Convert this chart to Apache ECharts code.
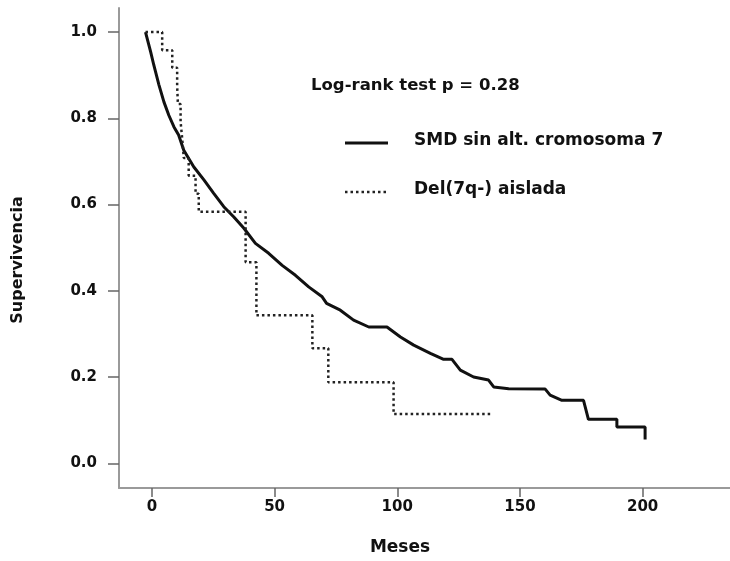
<!DOCTYPE html>
<html>
<head>
<meta charset="utf-8">
<script src="https://cdn.jsdelivr.net/npm/echarts@6/dist/echarts.min.js"></script>
<style>html,body{margin:0;padding:0;background:#fff}#c{width:730px;height:561px}</style>
</head>
<body>
<div id="c"></div>
<script>
// ---- data ----
const seriesNames = ['SMD sin alt. cromosoma 7', 'Del(7q-) aislada'];
const testLabel = 'Log-rank test p = 0.28';
const xTicks = [0, 50, 100, 150, 200];
const yTicks = [0.0, 0.2, 0.4, 0.6, 0.8, 1.0];
const xTitle = 'Meses';
const yTitle = 'Supervivencia';
// solid curve: months / survival
const smdMonths = [-2.6, -0.5, 0.8, 2.9, 4.9, 6.9, 9.0, 10.9, 13.0, 17.1, 21.2, 25.2, 29.3, 33.4, 37.5, 42.2, 47.6, 53.1, 58.5, 63.9, 69.4, 71.2, 76.8, 82.2, 88.4, 95.8, 101.3, 106.7, 113.5, 118.9, 122.3, 125.7, 131.1, 137.2, 139.3, 145.4, 160.3, 162.3, 167.1, 175.9, 177.9, 189.5, 189.5, 201.0, 201.0];
const smdSurv   = [1.0, 0.954, 0.923, 0.877, 0.838, 0.807, 0.780, 0.761, 0.726, 0.687, 0.657, 0.626, 0.595, 0.571, 0.545, 0.510, 0.487, 0.459, 0.436, 0.409, 0.386, 0.371, 0.355, 0.332, 0.316, 0.316, 0.293, 0.274, 0.255, 0.241, 0.241, 0.216, 0.200, 0.193, 0.177, 0.173, 0.172, 0.158, 0.146, 0.146, 0.102, 0.102, 0.084, 0.084, 0.055];
// dotted curve (step): time of drop / survival after drop
const delMonths = [-2.6, 4.2, 8.3, 10.3, 10.6, 11.7, 12.4, 13.0, 15.0, 17.8, 19.1, 38.2, 42.6, 65.4, 71.9, 98.5, 137.9];
const delSurv   = [1.0, 0.958, 0.917, 0.875, 0.833, 0.792, 0.750, 0.708, 0.667, 0.625, 0.583, 0.466, 0.343, 0.267, 0.188, 0.114, 0.114];

const FONT = 'DejaVu Sans';
const chart = echarts.init(document.getElementById('c'));
const smdData = smdMonths.map((m, i) => [m, smdSurv[i]]);
const delData = delMonths.map((m, i) => [m, delSurv[i]]);

chart.setOption({
  animation: false,
  backgroundColor: '#fff',
  grid: { left: 119, top: 8, width: 611, height: 480, containLabel: false },
  xAxis: {
    type: 'value', min: -13.4, max: 235.6,
    axisLine: { show: true, onZero: false, lineStyle: { color: '#9a9a9a', width: 2 } },
    axisTick: { show: true, length: 9, customValues: xTicks, lineStyle: { color: '#666', width: 1.5 } },
    axisLabel: { customValues: xTicks, margin: 12, color: '#111', fontFamily: FONT, fontWeight: 'bold', fontSize: 15, formatter: v => String(v) },
    splitLine: { show: false }
  },
  yAxis: {
    type: 'value', min: -0.0573, max: 1.0557,
    axisLine: { show: true, onZero: false, lineStyle: { color: '#9a9a9a', width: 2 } },
    axisTick: { show: true, length: 11, customValues: yTicks, lineStyle: { color: '#666', width: 1.5 } },
    axisLabel: { customValues: yTicks, margin: 22, color: '#111', fontFamily: FONT, fontWeight: 'bold', fontSize: 15, formatter: v => v.toFixed(1) },
    splitLine: { show: false }
  },
  series: [
    { name: seriesNames[0], type: 'line', data: smdData, showSymbol: false, symbol: 'none',
      lineStyle: { color: '#111', width: 3 } },
    { name: seriesNames[1], type: 'line', data: delData, step: 'end', showSymbol: false, symbol: 'none',
      lineStyle: { color: '#222', width: 2.5, type: [2.5, 3] } }
  ],
  graphic: [
    { type: 'text', left: 311, top: 77, style: { text: testLabel, fill: '#111', font: 'bold 16.5px "DejaVu Sans"' } },
    { type: 'line', shape: { x1: 345, y1: 143, x2: 388, y2: 143 }, style: { stroke: '#111', lineWidth: 3 } },
    { type: 'text', left: 414, top: 132, style: { text: seriesNames[0], fill: '#111', font: 'bold 17px "DejaVu Sans"' } },
    { type: 'line', shape: { x1: 345, y1: 192, x2: 388, y2: 192 }, style: { stroke: '#222', lineWidth: 2.5, lineDash: [2.5, 3] } },
    { type: 'text', left: 414, top: 181, style: { text: seriesNames[1], fill: '#111', font: 'bold 17px "DejaVu Sans"' } },
    { type: 'text', x: 400, y: 548, style: { text: xTitle, fill: '#111', font: 'bold 17px "DejaVu Sans"', align: 'center', verticalAlign: 'middle' } },
    { type: 'text', x: 18, y: 260, rotation: Math.PI / 2, style: { text: yTitle, fill: '#111', font: 'bold 16px "DejaVu Sans"', align: 'center', verticalAlign: 'middle' } }
  ]
});
</script>
</body>
</html>
